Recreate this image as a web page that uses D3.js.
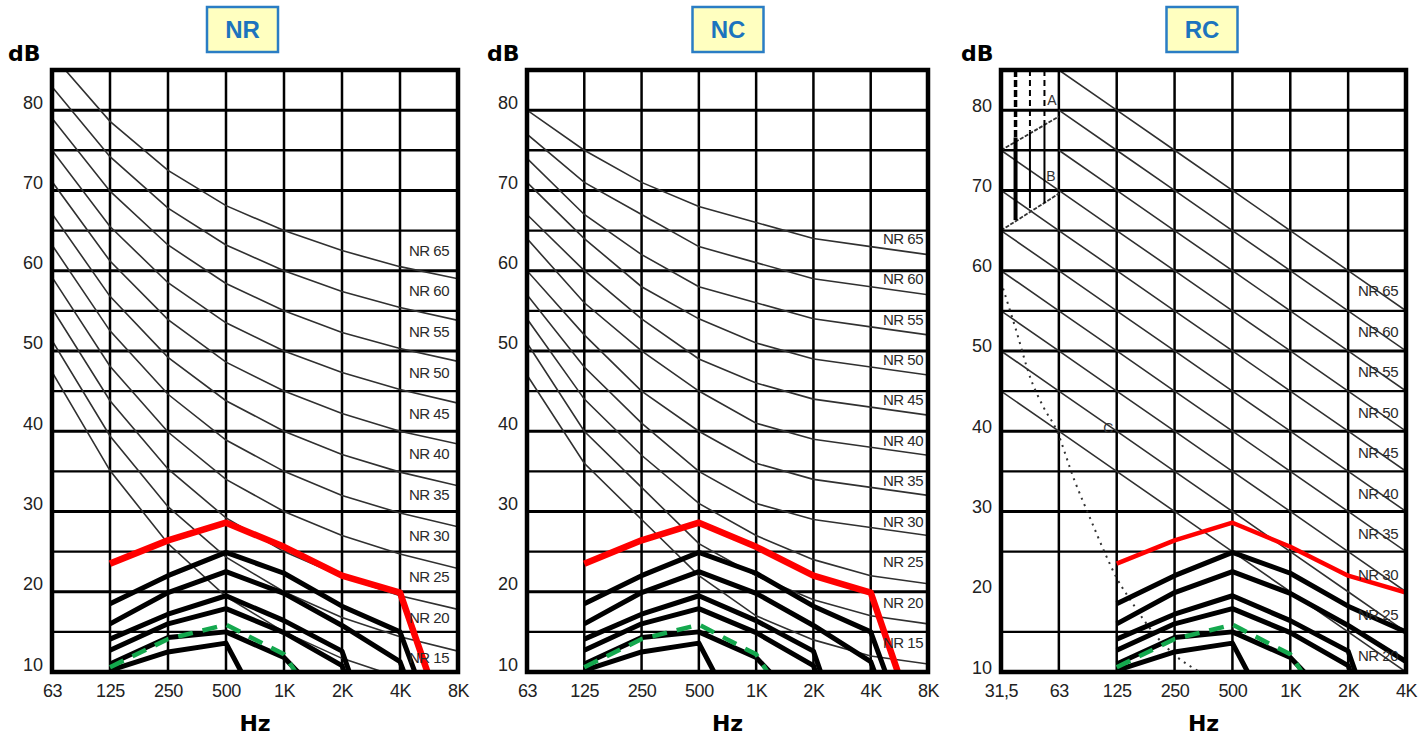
<!DOCTYPE html>
<html><head><meta charset="utf-8">
<script src="https://cdn.jsdelivr.net/npm/d3@7"></script>
<style>body{margin:0;background:#fff}text{font-family:"Liberation Sans",Arial,sans-serif}</style>
</head><body><svg id="c" width="1426" height="738"></svg>
<script>
// ---------------- data ----------------
const bandsA = [62.5, 125, 250, 500, 1000, 2000, 4000, 8000];
const bandLabelsA = ["63", "125", "250", "500", "1K", "2K", "4K", "8K"];
const bandsRC = [31.25, 62.5, 125, 250, 500, 1000, 2000, 4000];
const bandLabelsRC = ["31,5", "63", "125", "250", "500", "1K", "2K", "4K"];
const dbTicks = [10, 20, 30, 40, 50, 60, 70, 80];
const gridDb = [15, 20, 25, 30, 35, 40, 45, 50, 55, 60, 65, 70, 75, 80];
const gridDbRC = [15, 25, 30, 35, 40, 45, 50, 55, 60, 65, 70, 75, 80];
const panelTitles = ["NR", "NC", "RC"];

const curveLevels = [65, 60, 55, 50, 45, 40, 35, 30, 25, 20, 15];
const curveLabels = ["NR 65", "NR 60", "NR 55", "NR 50", "NR 45", "NR 40", "NR 35", "NR 30", "NR 25", "NR 20", "NR 15"];

// NR curves, 63 Hz ... 8 kHz
const nrValues = [
  [86.9, 78.6, 72.5, 68.1, 65, 62.5, 60.5, 59.0],
  [82.9, 74.2, 67.8, 63.2, 60, 57.4, 55.4, 53.8],
  [79.0, 69.9, 63.2, 58.4, 55, 52.3, 50.3, 48.7],
  [75.0, 65.5, 58.5, 53.5, 50, 47.3, 45.2, 43.5],
  [71.1, 61.2, 53.9, 48.6, 45, 42.2, 40.0, 38.4],
  [67.1, 56.8, 49.2, 43.8, 40, 37.1, 34.9, 33.2],
  [63.2, 52.5, 44.6, 38.9, 35, 32.0, 29.8, 28.1],
  [59.2, 48.1, 39.9, 34.0, 30, 27.0, 24.7, 22.9],
  [55.3, 43.8, 35.3, 29.2, 25, 21.9, 19.5, 17.8],
  [51.3, 39.4, 30.6, 24.3, 20, 16.8, 14.4, 12.6],
  [47.4, 35.1, 26.0, 19.4, 15, 11.7, 9.3, 7.5]
];
// NC curves, 63 Hz ... 8 kHz
const ncValues = [
  [80, 75, 71, 68, 66, 64, 63, 62],
  [77, 71, 67, 63, 61, 59, 58, 57],
  [74, 67, 62, 58, 56, 54, 53, 52],
  [71, 64, 58, 54, 51, 49, 48, 47],
  [67, 60, 54, 49, 46, 44, 43, 42],
  [64, 56, 50, 45, 41, 39, 38, 37],
  [60, 52, 45, 40, 36, 34, 33, 32],
  [57, 48, 41, 35, 31, 29, 28, 27],
  [54, 44, 37, 31, 27, 24, 22, 21],
  [51, 40, 33, 26, 22, 19, 17, 16],
  [47, 36, 29, 22, 17, 14, 12, 11]
];
// RC lines, 31.5 Hz ... 4 kHz
const rcLevels = [65, 60, 55, 50, 45, 40, 35, 30, 25, 20];
const rcValues = [
  [null, 85, 80, 75, 70, 65, 60, 55],
  [null, 80, 75, 70, 65, 60, 55, 50],
  [null, 75, 70, 65, 60, 55, 50, 45],
  [75, 70, 65, 60, 55, 50, 45, 40],
  [70, 65, 60, 55, 50, 45, 40, 35],
  [65, 60, 55, 50, 45, 40, 35, 30],
  [60, 55, 50, 45, 40, 35, 30, 25],
  [55, 50, 45, 40, 35, 30, 25, 20],
  [50, 45, 40, 35, 30, 25, 20, 15],
  [45, 40, 35, 30, 25, 20, 15, 10]
];
// RC extras
const rcBoundA = [[31.25, 75], [62.5, 79.2]];
const rcBoundB = [[31.25, 65], [62.5, 69.6]];
const rcVertFreqs = [37.2, 44.2, 52.6];
const rcVertSolidTop = [76.6, 77.3, 78.4];
const rcVertSolidBottom = [66.3, 67.8, 68.4];
const rcCurveC = [[31.25, 58.6], [37, 53], [44.8, 46.4], [52, 43], [60.6, 40.2], [75, 34], [91.5, 29], [110, 24.5], [125, 21.7], [147, 19], [200, 14.5], [260, 11.8], [339, 10]];
const rcNotes = [["A", 57.5, 81.3], ["B", 56.8, 71.8], ["C", 113, 40.4]];

// measured spectra, 125 Hz ... 8 kHz
const spectrumBands = [125, 250, 500, 1000, 2000, 4000, 8000];
const redSpectrum = [23.5, 26.4, 28.6, 25.6, 22.0, 19.9, -1];
const blackSpectra = [
  [18.5, 22.0, 24.9, 22.3, 18.2, 15.0, -4.5],
  [16.0, 19.9, 22.5, 19.8, 15.8, 11.3, -8],
  [14.1, 17.2, 19.5, 16.4, 12.6, -8],
  [12.7, 16.0, 17.9, 14.9, 10.8, -10],
  [11.0, 14.3, 15.0, 11.8, 4.3],
  [10.2, 12.5, 13.6, 0]
];
const greenSpectrum = [10.6, 14.1, 15.9, 12.2, 1.2];

// ---------------- drawing ----------------
const svg = d3.select("#c");
const defs = svg.append("defs");
const Y0 = 672, Y1 = 70;
const y = d3.scaleLinear().domain([10, 85]).range([Y0, Y1]);
const heavy = '"DejaVu Sans", "Liberation Sans", sans-serif';

const panels = [
  {id: 0, x0: 52, x1: 458, bands: bandsA, labels: bandLabelsA, curves: nrValues, grid: gridDb,
   boxC: 242.5, dbX: 8, labelX: 429, labelY: n => y(n) + 19.5 + (65 - n) * 0.13, tickDy: -2},
  {id: 1, x0: 527, x1: 928, bands: bandsA, labels: bandLabelsA, curves: ncValues, grid: gridDb,
   boxC: 728, dbX: 487, labelX: 903, labelY: n => y(n) + 7.5 + (65 - n) * 0.07, tickDy: -2},
  {id: 2, x0: 1001, x1: 1406, bands: bandsRC, labels: bandLabelsRC, curves: rcValues, grid: gridDbRC,
   boxC: 1202, dbX: 961, labelX: 1378, labelY: n => y(n - 7.5) + (65 - n) * 0.07, tickDy: 1}
];

panels.forEach((p, pi) => {
  const x = d3.scaleLog().base(2).domain([p.bands[0], p.bands[p.bands.length - 1]]).range([p.x0, p.x1]);
  const g = svg.append("g");
  const clipId = "clip" + p.id;
  defs.append("clipPath").attr("id", clipId).append("rect")
    .attr("x", p.x0).attr("y", Y1).attr("width", p.x1 - p.x0).attr("height", Y0 - Y1);

  // grid
  g.append("g").selectAll("line").data(p.grid).join("line")
    .attr("x1", p.x0).attr("x2", p.x1).attr("y1", d => y(d)).attr("y2", d => y(d))
    .attr("stroke", "#000").attr("stroke-width", d => d % 10 === 0 ? 3 : 2.3);
  g.append("g").selectAll("line").data(p.bands.slice(1, -1)).join("line")
    .attr("x1", d => x(d)).attr("x2", d => x(d)).attr("y1", Y1).attr("y2", Y0)
    .attr("stroke", "#000").attr("stroke-width", 2.5);

  const cg = g.append("g").attr("clip-path", `url(#${clipId})`);
  const line = d3.line().defined(d => d[1] != null).x(d => x(d[0])).y(d => y(d[1]));

  // rating curves
  cg.append("g").selectAll("path").data(p.curves).join("path")
    .attr("d", vals => line(p.bands.map((f, i) => [f, vals[i]])))
    .attr("fill", "none").attr("stroke", "#303030").attr("stroke-width", 1.6);

  // curve labels
  const lv = pi === 2 ? rcLevels : curveLevels;
  g.append("g").selectAll("text").data(lv).join("text")
    .attr("x", p.labelX).attr("y", n => p.labelY(n))
    .attr("text-anchor", "middle").attr("dominant-baseline", "central")
    .attr("font-size", 15).attr("letter-spacing", -0.5).attr("fill", "#2a2a2a")
    .text(n => curveLabels[curveLevels.indexOf(n)]);

  if (pi === 2) {
    // RC extras
    const eg = cg.append("g");
    [rcBoundA, rcBoundB].forEach(b => eg.append("path").attr("d", line(b))
      .attr("fill", "none").attr("stroke", "#333").attr("stroke-width", 1.8).attr("stroke-dasharray", "4,1.5"));
    rcVertFreqs.forEach((f, i) => {
      const w = i === 0 ? 4 : 2;
      eg.append("line").attr("x1", x(f)).attr("x2", x(f)).attr("y1", Y1).attr("y2", y(rcVertSolidTop[i]))
        .attr("stroke", "#000").attr("stroke-width", i === 0 ? 3.5 : 2).attr("stroke-dasharray", i === 0 ? "7,3" : "6,4");
      eg.append("line").attr("x1", x(f)).attr("x2", x(f)).attr("y1", y(rcVertSolidTop[i])).attr("y2", y(rcVertSolidBottom[i]))
        .attr("stroke", "#000").attr("stroke-width", w);
    });
    eg.append("path").attr("d", d3.line().curve(d3.curveMonotoneX).x(d => x(d[0])).y(d => y(d[1]))(rcCurveC))
      .attr("fill", "none").attr("stroke", "#333").attr("stroke-width", 2).attr("stroke-dasharray", "2,5");
    g.append("g").selectAll("text").data(rcNotes).join("text")
      .attr("x", d => x(d[1])).attr("y", d => y(d[2]))
      .attr("text-anchor", "middle").attr("dominant-baseline", "central")
      .attr("font-size", 14).attr("fill", "#333").text(d => d[0]);
  }

  // spectra
  const spec = vals => line(spectrumBands.slice(0, vals.length).map((f, i) => [f, vals[i]]));
  cg.append("g").selectAll("path").data(blackSpectra).join("path")
    .attr("d", spec).attr("fill", "none").attr("stroke", "#000").attr("stroke-width", 5)
    .attr("stroke-linejoin", "round");
  cg.append("path").attr("d", spec(greenSpectrum)).attr("fill", "none")
    .attr("stroke", "#14a84e").attr("stroke-width", 4.5).attr("stroke-dasharray", "15,10");
  cg.append("path").attr("d", spec(redSpectrum)).attr("fill", "none")
    .attr("stroke", "#ff0000").attr("stroke-width", pi === 2 ? 4.5 : 6.5).attr("stroke-linejoin", "round");

  // frame
  g.append("rect").attr("x", p.x0).attr("y", Y1).attr("width", p.x1 - p.x0).attr("height", Y0 - Y1)
    .attr("fill", "none").attr("stroke", "#000").attr("stroke-width", 4.5);

  // axes
  const ya = d3.axisLeft(y).tickValues(dbTicks).tickSize(0).tickPadding(9);
  const yg = g.append("g").attr("transform", `translate(${p.x0},0)`).call(ya);
  yg.select(".domain").remove();
  yg.selectAll("text").attr("font-size", 18).attr("fill", "#222")
    .attr("dy", null).attr("dominant-baseline", "auto").attr("transform", `translate(0,${p.tickDy})`)
    .style("font-family", '"Liberation Sans", Arial, sans-serif');

  const xa = d3.axisBottom(x).tickValues(p.bands).tickFormat((d, i) => p.labels[i]).tickSize(0).tickPadding(12);
  const xg = g.append("g").attr("transform", `translate(0,${Y0})`).call(xa);
  xg.select(".domain").remove();
  xg.selectAll("text").attr("font-size", 18).attr("fill", "#222").attr("letter-spacing", -0.4)
    .style("font-family", '"Liberation Sans", Arial, sans-serif');

  // titles
  g.append("rect").attr("x", p.boxC - 35.5).attr("y", 7).attr("width", 71).attr("height", 45)
    .attr("fill", "#ffffc0").attr("stroke", "#2a7dc4").attr("stroke-width", 2.5);
  g.append("text").attr("x", p.boxC).attr("y", 38).attr("text-anchor", "middle")
    .attr("font-size", 24).attr("font-weight", "bold").attr("fill", "#1c74be").text(panelTitles[pi]);
  g.append("text").attr("x", p.dbX).attr("y", 61).attr("font-size", 22).attr("font-weight", "bold")
    .style("font-family", heavy).attr("fill", "#000").text("dB");
  g.append("text").attr("x", (p.x0 + p.x1) / 2).attr("y", 731).attr("text-anchor", "middle")
    .attr("font-size", 22).attr("font-weight", "bold").style("font-family", heavy)
    .attr("fill", "#000").text("Hz");
});
</script></body></html>
